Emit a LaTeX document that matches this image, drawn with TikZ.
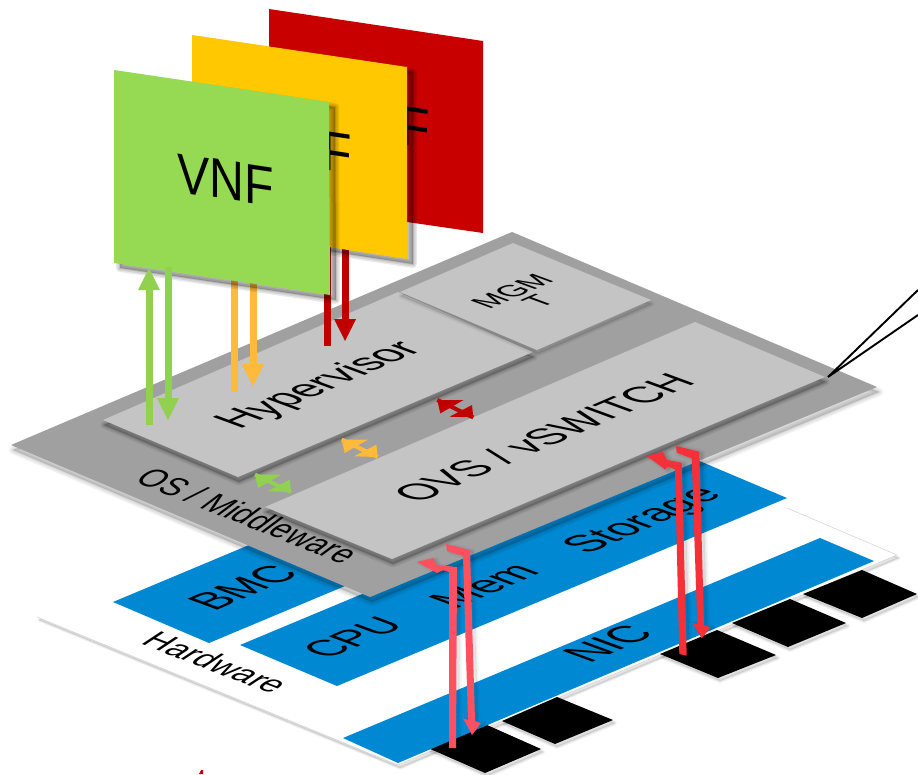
\documentclass[tikz,border=0pt]{standalone}
\usepackage{fontspec}
\setmainfont{Liberation Sans}
\definecolor{osgray}{HTML}{A0A0A0}
\definecolor{tilegray}{HTML}{C4C4C4}
\definecolor{hwblue}{HTML}{0088D2}
\definecolor{vnfgreen}{HTML}{96D952}
\definecolor{vnfyellow}{HTML}{FFC800}
\definecolor{vnfred}{HTML}{C80000}
\definecolor{arrgreen}{HTML}{92D050}
\definecolor{arrorange}{HTML}{FFB93B}
\definecolor{arrdark}{HTML}{C00000}
\definecolor{arrredA}{HTML}{FF5060}
\definecolor{arrredB}{HTML}{F53038}
\newcommand{\softshadow}[5]{%
  \foreach \w in {#4}{%
    \path[shift={(#1,#2)},fill=black,draw=black,fill opacity=#3,draw opacity=#3,line width=\w pt,line join=round] #5;}}
\newcommand{\shfill}[6]{\softshadow{#1}{#2}{#3}{#4}{#6}\fill[#5] #6;}
\newcommand{\dblarrow}[4]{%
  \begin{scope}[shift={(#1,#2)}]
    \coordinate (#4L) at (-18,-8.7);
    \coordinate (#4R) at (18,8.7);
    \fill[#3] (#4L) -- (8.3,-8.7) -- (-15,4.7) -- cycle;
    \fill[#3] (#4R) -- (-5.7,8) -- (16.7,-3.7) -- cycle;
    \draw[#3,line width=4pt] (#4L) -- (#4R);
  \end{scope}}
\tikzset{
  isoU/.style={cm={0.85,0.365,-0.94,0.345,(0,0)},transform shape,inner sep=0pt,anchor=base,text=black,font=\fontsize{#1}{#1}\selectfont},
  isoMid/.style={cm={0.81,-0.32,0.8,0.6,(0,0)},transform shape,inner sep=0pt,anchor=base,text=black,font=\fontsize{35}{35}\selectfont},
  isoHw/.style={cm={0.91,-0.35,0.83,0.55,(0,0)},transform shape,inner sep=0pt,anchor=base,text=black,font=\fontsize{33.6}{33.6}\selectfont},
  vnftext/.style={cm={0.86,-0.129,0,1,(0,0)},transform shape,inner sep=0pt,text=black,font=\fontsize{56}{56}\selectfont},
}
\begin{document}
\begin{tikzpicture}[x=1pt,y=-1pt]
\useasboundingbox (0,0) rectangle (918,774);
\fill[white] (0,0) rectangle (918,774);
% Hardware board
\shfill{2}{3}{0.05}{3,1.5}{white}{(37,617) -- (398,765) -- (897,555) -- (536,407) -- cycle}
\draw[black!18,line width=0.5pt] (37,617) -- (398,765) -- (897,555) -- (787,508);
% ports
\shfill{2}{3}{0.05}{4,2}{black}{(428,748) -- (485,773) -- (541,749) -- (487,725) -- cycle}
\shfill{2}{3}{0.05}{4,2}{black}{(502,721) -- (557,697) -- (613,720) -- (555,744) -- cycle}
\shfill{2}{3}{0.05}{4,2}{black}{(660,654) -- (717,630) -- (776,655) -- (718,678) -- cycle}
\shfill{2}{3}{0.05}{4,2}{black}{(732,623) -- (790,599) -- (846,623) -- (788,647) -- cycle}
\shfill{2}{3}{0.05}{4,2}{black}{(803,594) -- (862,570) -- (917,594) -- (862,618) -- cycle}
% blue blocks
\fill[hwblue] (113,602) -- (209,643) -- (345,586) -- (249,545) -- cycle;
\fill[hwblue] (240,645) -- (337,686) -- (787,498) -- (690,457) -- cycle;
\fill[hwblue] (343,738) -- (398,763) -- (874,561) -- (820,538) -- cycle;
\node[isoU=46] (bmc) at (258,593) {BMC};
\node[isoU=44] (cpu) at (367,643) {CPU};
\node[isoU=46] (mem) at (499,591) {Mem};
\node[isoU=46] (storage) at (656,525) {Storage};
\node[isoU=46] (nic) at (623,649) {NIC};
\node[isoHw] (hardware) at (206,669) {Hardware};
% OS layer
\shfill{2}{5}{0.05}{8,5,2}{osgray}{(11,445) -- (370,597) -- (877,387) -- (512,232) -- cycle}
\node[isoMid] (os) at (238,523) {OS / Middleware};
% inner tiles
\shfill{1}{5}{0.07}{7,4,2}{tilegray}{(103,420) -- (238,477) -- (533,352) -- (398,292) -- cycle}
\shfill{1}{4}{0.05}{5,2}{tilegray}{(400,292) -- (537,350) -- (651,300) -- (513,243) -- cycle}
\shfill{1}{5}{0.07}{7,4,2}{tilegray}{(265,507) -- (392,559) -- (825,377) -- (695,322) -- cycle}
\node[isoU=45.5] (hyper) at (332,389.5) {Hypervisor};
\node[isoU=44.5] (ovs) at (558,443) {OVS / vSWITCH};
\node[cm={0.85,0.365,-0.94,0.345,(0,0)},transform shape,inner sep=0pt,align=center,font=\fontsize{32}{28}\selectfont] (mgmt) at (525,296) {MGM\\T};
% horizontal double arrows
\dblarrow{455.3}{408.7}{arrdark}{dr}
\dblarrow{359.7}{448.3}{arrorange}{do}
\dblarrow{273}{483.3}{arrgreen}{dg}
% red VNF
\fill[vnfred] (269,9) -- (483,41) -- (483,233) -- (269,202) -- cycle;
\node[vnftext] (vnfr) at (382,122) {VNF};
% dark red arrows
\coordinate (ra) at (327,240); \coordinate (rb) at (327,346);
\coordinate (rc) at (345,240); \coordinate (rd) at (345,320);
\draw[arrdark,line width=7pt] (ra) -- (rb);
\draw[arrdark,line width=7pt] (rc) -- (rd);
\fill[arrdark] (334,319) -- (356,319) -- (345,341) -- cycle;
% yellow VNF
\shfill{6}{5}{0.09}{8,5,2}{vnfyellow}{(192,35) -- (407,67) -- (407,259) -- (192,226) -- cycle}
\node[vnftext] (vnfy) at (303.5,147) {VNF};
% orange arrows
\coordinate (oa) at (234,260); \coordinate (ob) at (234,392);
\coordinate (oc) at (253,260); \coordinate (od) at (253,365);
\draw[arrorange,line width=7pt] (oa) -- (ob);
\draw[arrorange,line width=7pt] (oc) -- (od);
\fill[arrorange] (242,364) -- (264,364) -- (253,386) -- cycle;
% green VNF
\shfill{6}{5}{0.09}{8,5,2}{vnfgreen}{(114,70) -- (329,102) -- (330,295) -- (114,263) -- cycle}
\node[vnftext] (vnfg) at (226,180) {VNF};
% green arrows
\coordinate (ga) at (149,425); \coordinate (gb) at (149,289);
\coordinate (gc) at (168,267); \coordinate (gd) at (168,399);
\draw[arrgreen,line width=7pt] (ga) -- (gb);
\draw[arrgreen,line width=7pt] (gc) -- (gd);
\fill[arrgreen] (138,290) -- (160,290) -- (149,268) -- cycle;
\fill[arrgreen] (157,398) -- (179,398) -- (168,420) -- cycle;
% hardware arrows
\shfill{3}{1}{0.04}{6,3}{arrredB}{(686.7,655.7) -- (679.3,654) -- (675,469.3) -- (668.3,466.7) -- (665,469.3) -- (646.7,456) -- (662.7,451.7) -- (667.3,460) -- (681.7,462.7) -- cycle}
\shfill{3}{1}{0.04}{6,3}{arrredB}{(676,446) -- (699.3,451.7) -- (704,625) -- (710.7,627.3) -- (701.7,638.3) -- (692.3,622.7) -- (697.3,624) -- (691.7,458.3) -- (676.7,452.7) -- cycle}
\shfill{3}{1}{0.03}{5,2}{arrredA}{(456,748) -- (449,748) -- (449,572) -- (443,570) -- (437,573) -- (417,562) -- (433,558) -- (437,565) -- (457,567) -- cycle}
\shfill{3}{1}{0.03}{5,2}{arrredA}{(446,544) -- (470,550) -- (475,721) -- (481,723) -- (472,735) -- (463,718) -- (468,720) -- (463,556) -- (447,551) -- cycle}
% callout
\coordinate (callouttip) at (828,377);
\coordinate (calloutA) at (918,290);
\coordinate (calloutB) at (918,315);
\draw[black,line width=1.9pt] (calloutA) -- (callouttip) -- (calloutB);
% small red mark at the lower edge
\fill[vnfred] (199,774) -- (201,770) -- (203,770) -- (203,774) -- cycle;
\end{tikzpicture}
\end{document}
